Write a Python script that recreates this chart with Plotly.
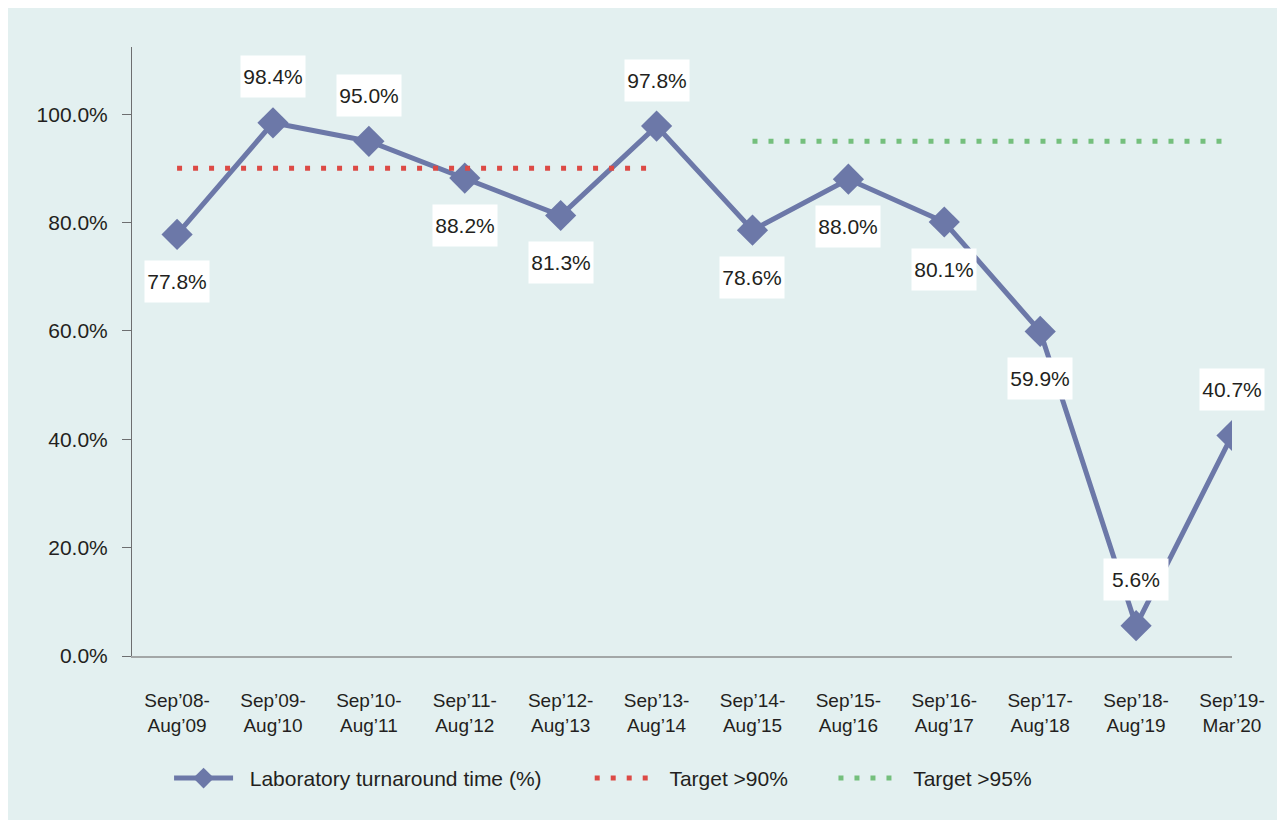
import plotly.graph_objects as go

categories = ["Sep’08-<br>Aug’09", "Sep’09-<br>Aug’10", "Sep’10-<br>Aug’11", "Sep’11-<br>Aug’12",
              "Sep’12-<br>Aug’13", "Sep’13-<br>Aug’14", "Sep’14-<br>Aug’15", "Sep’15-<br>Aug’16",
              "Sep’16-<br>Aug’17", "Sep’17-<br>Aug’18", "Sep’18-<br>Aug’19", "Sep’19-<br>Mar’20"]
turnaround = [77.8, 98.4, 95.0, 88.2, 81.3, 97.8, 78.6, 88.0, 80.1, 59.9, 5.6, 40.7]
label_above = [False, True, True, False, False, True, False, False, False, False, True, True]
target90_cats = categories[0:6]
target90 = [90] * 6
target95_cats = categories[6:12]
target95 = [95] * 6

BG = "#e3f0f0"
LINE = "#6c78a8"
FONT = "Liberation Sans, Arial, sans-serif"
TXT = "#231f20"
PAD = "\u00a0\u00a0"

fig = go.Figure()
fig.add_trace(go.Scatter(
    x=categories, y=turnaround, mode="lines+markers",
    name=PAD + "Laboratory turnaround time (%)", legend="legend",
    line=dict(color=LINE, width=5),
    marker=dict(symbol="diamond", size=24, color=LINE),
))
fig.add_trace(go.Scatter(
    x=target90_cats, y=target90, mode="lines", name=PAD + "Target >90%", legend="legend2",
    line=dict(color="#dc4a45", width=5, dash="5px,11px"),
))
fig.add_trace(go.Scatter(
    x=target95_cats, y=target95, mode="lines", name=PAD + "Target >95%", legend="legend3",
    line=dict(color="#74bf7c", width=5, dash="5px,11px"),
))

for c, v, up in zip(categories, turnaround, label_above):
    fig.add_annotation(
        x=c, y=v, text=f"{v:.1f}%", showarrow=False,
        yshift=46 if up else -47,
        bgcolor="white", width=62, height=39, borderpad=1,
        font=dict(family=FONT, size=21, color=TXT),
    )

leg_common = dict(orientation="h", y=-0.201, xanchor="left", yanchor="middle",
                  font=dict(family=FONT, size=21, color=TXT),
                  bgcolor="rgba(0,0,0,0)")

fig.update_layout(
    width=1285, height=820,
    paper_bgcolor=BG, plot_bgcolor=BG,
    margin=dict(l=124, r=61, t=39, b=172),
    font=dict(family=FONT, size=18, color=TXT),
    showlegend=True,
    legend=dict(x=0.0337, itemwidth=59, **leg_common),
    legend2=dict(x=0.4161, itemwidth=58, **leg_common),
    legend3=dict(x=0.6377, itemwidth=58, **leg_common),
    xaxis=dict(
        type="category", categoryorder="array", categoryarray=categories,
        range=[-0.47, 11], showgrid=False, zeroline=False,
        showline=True, linecolor="#a3a7a7", linewidth=2,
        ticks="", ticklabelstandoff=26,
        tickfont=dict(family=FONT, size=19, color=TXT),
    ),
    yaxis=dict(
        range=[0, 112.4], tickvals=[0, 20, 40, 60, 80, 100],
        ticktext=["0.0%", "20.0%", "40.0%", "60.0%", "80.0%", "100.0%"],
        showgrid=False, zeroline=False,
        showline=True, linecolor="#6d6e70", linewidth=1,
        ticks="outside", ticklen=9, tickcolor="#6d6e70", tickwidth=1,
        ticklabelstandoff=10,
        tickfont=dict(family=FONT, size=21, color=TXT),
    ),
)

fig.write_html("out.html")
